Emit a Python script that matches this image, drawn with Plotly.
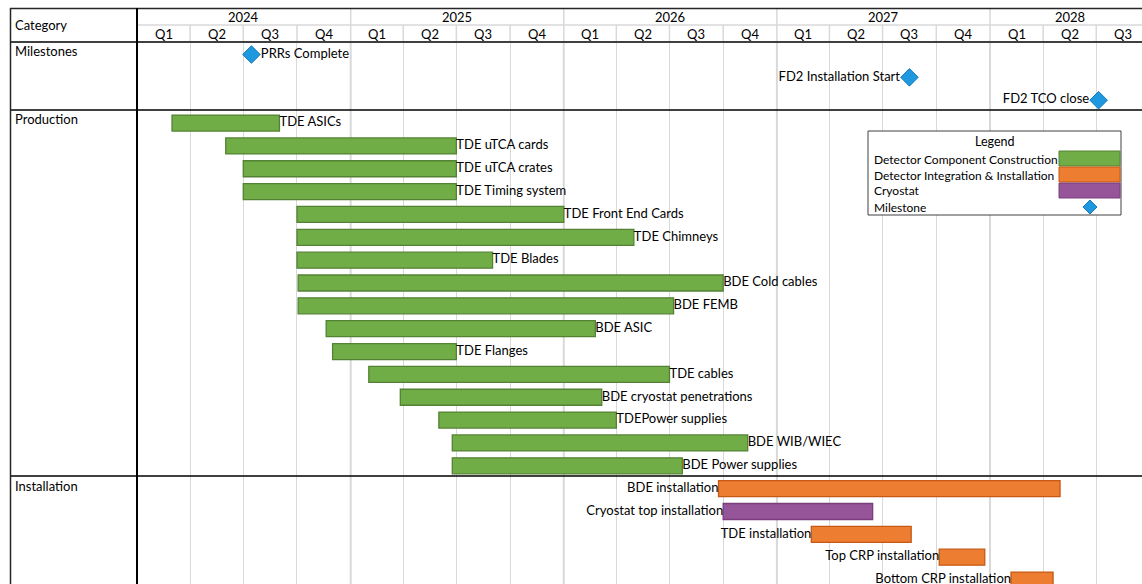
import pandas as pd
import plotly.graph_objects as go

# ---------------- data ----------------
years = [2024, 2025, 2026, 2027, 2028]
quarters = ["Q1", "Q2", "Q3", "Q4"]
sections = ["Milestones", "Production", "Installation"]

milestone_names = ["PRRs Complete", "FD2 Installation Start", "FD2 TCO close"]
milestone_dates = ["2024-07-15", "2027-08-16", "2028-07-05"]
milestone_label_side = ["right", "left", "left"]

production_tasks = ["TDE ASICs", "TDE uTCA cards", "TDE uTCA crates", "TDE Timing system",
                    "TDE Front End Cards", "TDE Chimneys", "TDE Blades", "BDE Cold cables",
                    "BDE FEMB", "BDE ASIC", "TDE Flanges", "TDE cables",
                    "BDE cryostat penetrations", "TDEPower supplies", "BDE WIB/WIEC",
                    "BDE Power supplies"]
production_start = ["2024-03-01", "2024-06-01", "2024-07-01", "2024-07-01",
                    "2024-10-01", "2024-10-01", "2024-10-01", "2024-10-03",
                    "2024-10-03", "2024-11-20", "2024-12-01", "2025-02-01",
                    "2025-03-27", "2025-06-01", "2025-06-24", "2025-06-24"]
production_end = ["2024-09-01", "2025-07-01", "2025-07-01", "2025-07-01",
                  "2026-01-01", "2026-05-01", "2025-09-01", "2026-10-01",
                  "2026-07-08", "2026-02-24", "2025-07-01", "2026-07-01",
                  "2026-03-07", "2026-04-01", "2026-11-12", "2026-07-23"]

install_tasks = ["BDE installation", "Cryostat top installation", "TDE installation",
                 "Top CRP installation", "Bottom CRP installation"]
install_start = ["2026-09-23", "2026-10-01", "2027-03-01", "2027-10-06", "2028-02-06"]
install_end = ["2028-04-30", "2027-06-14", "2027-08-19", "2027-12-23", "2028-04-18"]
install_type = ["Detector Integration & Installation", "Cryostat",
                "Detector Integration & Installation", "Detector Integration & Installation",
                "Detector Integration & Installation"]

legend_items = ["Detector Component Construction", "Detector Integration & Installation",
                "Cryostat", "Milestone"]

# ---------------- styles ----------------
FONT = "Lato"
COLORS = {
    "Detector Component Construction": ("#70AD47", "#548235"),
    "Detector Integration & Installation": ("#ED7D31", "#C65A15"),
    "Cryostat": ("#965598", "#7A3E7C"),
}
DIAMOND = ("#1E98DE", "#1878B8")
GRID = "#D9D9D9"
DARK = "#262626"

W, H = 1142, 584
L, T = 137, 42
PW, PH = W - L, H - T


def px(x):
    return (x - L) / PW


def py(y):
    return 1 - (y - T) / PH


def ms(a, b):
    return (pd.Timestamp(b) - pd.Timestamp(a)).total_seconds() * 1000


fig = go.Figure()

# rows
m_rows = list(range(len(milestone_names)))
p_rows = [len(m_rows) + i for i in range(len(production_tasks))]
i_rows = [len(m_rows) + len(p_rows) + i for i in range(len(install_tasks))]

# production bars
fc, lc = COLORS["Detector Component Construction"]
fig.add_trace(go.Bar(
    y=p_rows, base=production_start,
    x=[ms(s, e) for s, e in zip(production_start, production_end)],
    orientation="h", width=0.7, marker=dict(color=fc, line=dict(color=lc, width=1.3)),
    hoverinfo="skip", showlegend=False))
fig.add_trace(go.Scatter(
    y=p_rows, x=production_end, mode="text", text=production_tasks,
    textposition="middle right", textfont=dict(family=FONT, size=13, color="#000"),
    hoverinfo="skip", showlegend=False))

# installation bars, one trace per type
for typ in ["Detector Integration & Installation", "Cryostat"]:
    idx = [i for i, t in enumerate(install_type) if t == typ]
    fc, lc = COLORS[typ]
    fig.add_trace(go.Bar(
        y=[i_rows[i] for i in idx], base=[install_start[i] for i in idx],
        x=[ms(install_start[i], install_end[i]) for i in idx],
        orientation="h", width=0.7, marker=dict(color=fc, line=dict(color=lc, width=1.3)),
        hoverinfo="skip", showlegend=False))
fig.add_trace(go.Scatter(
    y=i_rows, x=install_start, mode="text", text=install_tasks,
    textposition="middle left", textfont=dict(family=FONT, size=13, color="#000"),
    hoverinfo="skip", showlegend=False))

# milestones
fig.add_trace(go.Scatter(
    y=m_rows, x=milestone_dates, mode="markers+text", text=milestone_names,
    textposition=["middle " + s for s in milestone_label_side],
    marker=dict(symbol="diamond", size=13.5, color=DIAMOND[0], line=dict(color=DIAMOND[1], width=1)),
    textfont=dict(family=FONT, size=13, color="#000"),
    hoverinfo="skip", showlegend=False))

# ---------------- axes ----------------
x0 = pd.Timestamp("2024-01-01")
px_per_day = (990 - 137) / 1461.0
x_end = x0 + pd.Timedelta(days=PW / px_per_day)
row_h = 22.85
row0_px = 54.5
y_top = (T - row0_px) / row_h
y_bot = (H - row0_px) / row_h

fig.update_xaxes(range=[x0, x_end], type="date", showticklabels=False, ticks="",
                 showgrid=True, gridcolor=GRID, gridwidth=1, tick0="2024-01-01", dtick="M3",
                 zeroline=False, showline=False)
fig.update_yaxes(range=[y_bot, y_top], showticklabels=False, showgrid=False, zeroline=False,
                 showline=False)

shapes = []
annots = []


def note(x, y, text, xref="paper", xanchor="center", size=13):
    annots.append(dict(x=x, y=y, xref=xref, yref="paper", text=text, showarrow=False,
                       xanchor=xanchor, yanchor="middle",
                       font=dict(family=FONT, size=size, color="#000")))


# quarter & year header
for y in years:
    for qi, q in enumerate(quarters):
        s = pd.Timestamp(year=y, month=1 + 3 * qi, day=1)
        if s >= x_end:
            continue
        e = s + pd.DateOffset(months=3)
        note(s + (e - s) / 2, py(33.5), q, xref="x")
        shapes.append(dict(type="line", xref="x", yref="paper", x0=s, x1=s, y0=py(25), y1=py(42),
                           line=dict(color=GRID, width=1.5)))
    ys = pd.Timestamp(year=y, month=1, day=1)
    ye = pd.Timestamp(year=y, month=10, day=1) if y == years[-1] else pd.Timestamp(year=y + 1, month=1, day=1)
    note(ys + (ye - ys) / 2, py(17), str(y), xref="x")
    shapes.append(dict(type="line", xref="x", yref="paper", x0=ys, x1=ys, y0=py(8), y1=py(25),
                       line=dict(color=GRID, width=1.5)))
    shapes.append(dict(type="line", xref="x", yref="paper", x0=ys, x1=ys, y0=py(42), y1=py(H),
                       line=dict(color=GRID, width=2), layer="below"))


# frame lines
def hline(y, x0p=10, x1p=W, color=DARK, width=1.5):
    shapes.append(dict(type="line", xref="paper", yref="paper", x0=px(x0p), x1=px(x1p),
                       y0=py(y), y1=py(y), line=dict(color=color, width=width)))


def vline(x, y0p=8, y1p=H, color=DARK, width=1.5):
    shapes.append(dict(type="line", xref="paper", yref="paper", x0=px(x), x1=px(x),
                       y0=py(y0p), y1=py(y1p), line=dict(color=color, width=width)))


hline(25, 137, W, GRID, 1.5)
hline(8.5)
hline(42, color="#404040", width=2)
hline(110, color="#000", width=1.5)
hline(476, color="#000", width=1.5)
vline(10.5)
vline(137, color="#000", width=2)

# category column texts
note(px(13), py(25), "Category", xanchor="left")
for name, yy in zip(sections, [51, 119, 486]):
    note(px(13), py(yy), name, xanchor="left")

# legend box
shapes.append(dict(type="rect", xref="paper", yref="paper", x0=px(868), x1=px(1121),
                   y0=py(131), y1=py(215), fillcolor="#fff", line=dict(color="#404040", width=1)))
note(px(995), py(142), "Legend", size=12.5)
for i, item in enumerate(legend_items):
    yy = 159 + 16 * i
    note(px(872), py(yy), item, xanchor="left", size=12)
    if item in COLORS:
        fc, lc = COLORS[item]
        shapes.append(dict(type="rect", xref="paper", yref="paper", x0=px(1059), x1=px(1120),
                           y0=py(yy - 8), y1=py(yy + 7), fillcolor=fc, line=dict(color=lc, width=1)))
    else:
        cx, cy, r = 1090, yy, 7
        path = "M {} {} L {} {} L {} {} L {} {} Z".format(
            px(cx), py(cy - r), px(cx + r), py(cy), px(cx), py(cy + r), px(cx - r), py(cy))
        shapes.append(dict(type="path", xref="paper", yref="paper", path=path,
                           fillcolor=DIAMOND[0], line=dict(color=DIAMOND[1], width=1)))

fig.update_layout(
    width=W, height=H, margin=dict(l=L, r=0, t=T, b=0, pad=0),
    paper_bgcolor="#fff", plot_bgcolor="#fff", barmode="overlay",
    shapes=shapes, annotations=annots, showlegend=False,
    font=dict(family=FONT, size=13, color="#000"),
)

fig.write_html("out.html", config={"displayModeBar": False},
               post_script="document.body.style.margin='0';document.body.style.overflow='hidden';")
